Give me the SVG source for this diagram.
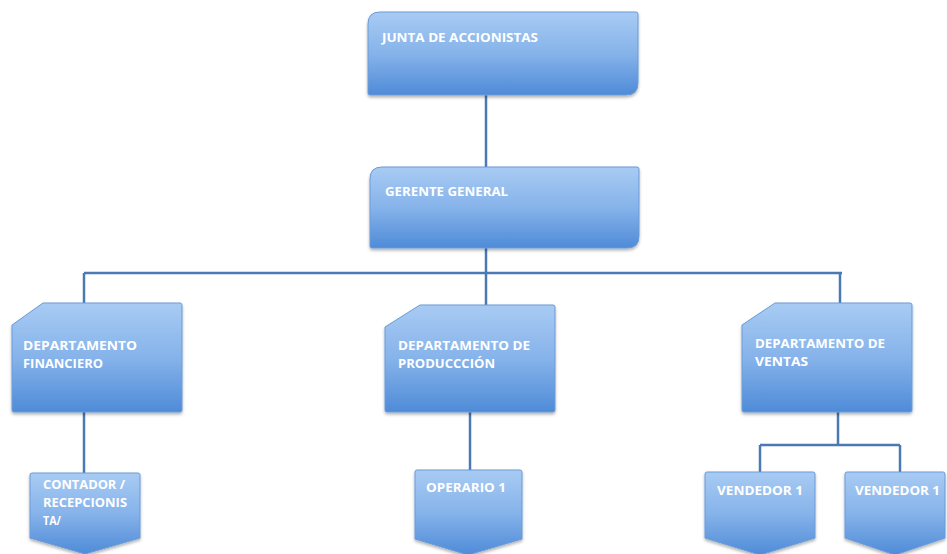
<svg xmlns="http://www.w3.org/2000/svg" width="947" height="554" viewBox="0 0 947 554">
<defs>
<linearGradient id="g" x1="0" y1="0" x2="0" y2="1">
<stop offset="0" stop-color="#a8cbf3"/>
<stop offset="0.5" stop-color="#86b3ea"/>
<stop offset="1" stop-color="#4f8bd8"/>
</linearGradient>
<filter id="sh" x="-10%" y="-10%" width="120%" height="130%">
<feDropShadow dx="0" dy="2" stdDeviation="1.5" flood-color="#000" flood-opacity="0.3"/>
</filter>
</defs>
<style>
.n{fill:url(#g);stroke:#6a9bd8;stroke-width:1;filter:url(#sh)}
.t{font-family:"Open Sans","Liberation Sans",sans-serif;font-weight:bold;font-size:12.5px;fill:#ffffff}
.c{stroke:#4a79b3;stroke-width:2.5;fill:none}
</style>
<rect width="947" height="554" fill="#ffffff"/>
<g id="connectors">
<path class="c" d="M486 95V167"/>
<path class="c" d="M486 248V273"/>
<path class="c" d="M84 273H842"/>
<path class="c" d="M84 273V303"/>
<path class="c" d="M486 273V305"/>
<path class="c" d="M840 273V303"/>
<path class="c" d="M84 412V473"/>
<path class="c" d="M470 412V470"/>
<path class="c" d="M838 412V445"/>
<path class="c" d="M760 445H900"/>
<path class="c" d="M760 445V472"/>
<path class="c" d="M900 445V472"/>
</g>
<g id="junta">
<path class="n" d="M380 12H636Q638 12 638 14V83Q638 95 626 95H370Q368 95 368 93V24Q368 12 380 12Z"/>
<text class="t" x="382" y="42" textLength="156" lengthAdjust="spacingAndGlyphs">JUNTA DE ACCIONISTAS</text>
</g>
<g id="gerente">
<path class="n" d="M382 167H637Q639 167 639 169V236Q639 248 627 248H372Q370 248 370 246V179Q370 167 382 167Z"/>
<text class="t" x="385" y="196" textLength="123" lengthAdjust="spacingAndGlyphs">GERENTE GENERAL</text>
</g>
<g id="dep-financiero">
<path class="n" d="M43 303H180Q182 303 182 305V410Q182 412 180 412H14Q12 412 12 410V325Z"/>
<text class="t" x="23" y="350" textLength="114" lengthAdjust="spacingAndGlyphs">DEPARTAMENTO</text>
<text class="t" x="23" y="368" textLength="80" lengthAdjust="spacingAndGlyphs">FINANCIERO</text>
</g>
<g id="dep-produccion">
<path class="n" d="M420 305H553Q555 305 555 307V410Q555 412 553 412H387Q385 412 385 410V327Z"/>
<text class="t" x="398" y="350" textLength="132" lengthAdjust="spacingAndGlyphs">DEPARTAMENTO DE</text>
<text class="t" x="398" y="368" textLength="97" lengthAdjust="spacingAndGlyphs">PRODUCCCIÓN</text>
</g>
<g id="dep-ventas">
<path class="n" d="M775 303H910Q912 303 912 305V410Q912 412 910 412H744Q742 412 742 410V325Z"/>
<text class="t" x="755" y="348" textLength="130" lengthAdjust="spacingAndGlyphs">DEPARTAMENTO DE</text>
<text class="t" x="755" y="366" textLength="53" lengthAdjust="spacingAndGlyphs">VENTAS</text>
</g>
<g id="contador">
<path class="n" d="M32 473H138Q140 473 140 475V538L85 554L30 538V475Q30 473 32 473Z"/>
<text class="t" x="43" y="489" textLength="82" lengthAdjust="spacingAndGlyphs">CONTADOR /</text>
<text class="t" x="43" y="507" textLength="84" lengthAdjust="spacingAndGlyphs">RECEPCIONIS</text>
<text class="t" x="43" y="525" textLength="18" lengthAdjust="spacingAndGlyphs">TA/</text>
</g>
<g id="operario">
<path class="n" d="M417 470H520Q522 470 522 472V539L468 555L415 539V472Q415 470 417 470Z"/>
<text class="t" x="426" y="492" textLength="80" lengthAdjust="spacingAndGlyphs">OPERARIO 1</text>
</g>
<g id="vendedor-1a">
<path class="n" d="M707 472H813Q815 472 815 474V538L760 555L705 538V474Q705 472 707 472Z"/>
<text class="t" x="717" y="495" textLength="86" lengthAdjust="spacingAndGlyphs">VENDEDOR 1</text>
</g>
<g id="vendedor-1b">
<path class="n" d="M847 472H943Q945 472 945 474V538L895 555L845 538V474Q845 472 847 472Z"/>
<text class="t" x="855" y="495" textLength="85" lengthAdjust="spacingAndGlyphs">VENDEDOR 1</text>
</g>
</svg>
